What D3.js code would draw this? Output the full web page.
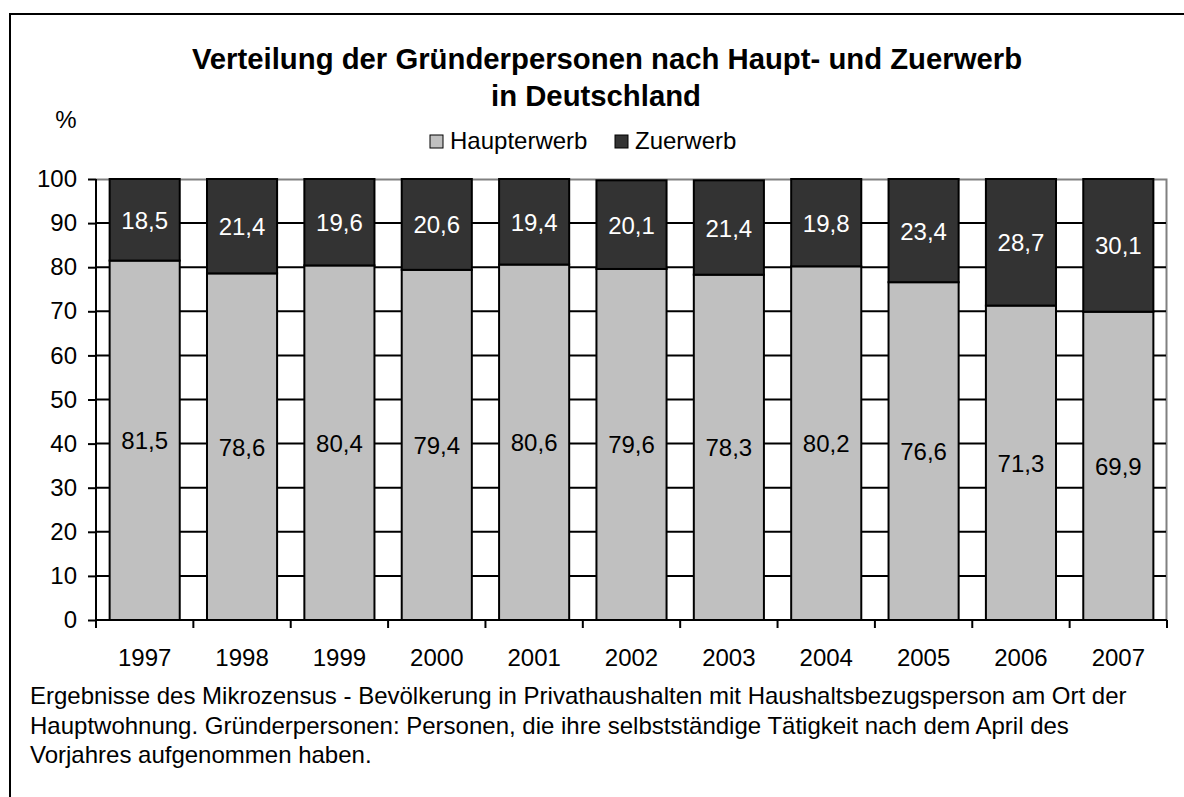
<!DOCTYPE html>
<html lang="de">
<head>
<meta charset="utf-8">
<title>Gründerpersonen</title>
<script src="https://cdn.jsdelivr.net/npm/d3@7"></script>
<style>
  body { margin: 0; background: #fff; }
  text { font-family: "Liberation Sans", Arial, sans-serif; }
</style>
</head>
<body>
<script>
  var years = ["1997", "1998", "1999", "2000", "2001", "2002", "2003", "2004", "2005", "2006", "2007"];
  var haupterwerb = [81.5, 78.6, 80.4, 79.4, 80.6, 79.6, 78.3, 80.2, 76.6, 71.3, 69.9];
  var zuerwerb = [18.5, 21.4, 19.6, 20.6, 19.4, 20.1, 21.4, 19.8, 23.4, 28.7, 30.1];
  var seriesNames = ["Haupterwerb", "Zuerwerb"];
  var yTicks = [0, 10, 20, 30, 40, 50, 60, 70, 80, 90, 100];
  var footer = [
    "Ergebnisse des Mikrozensus - Bevölkerung in Privathaushalten mit Haushaltsbezugsperson am Ort der",
    "Hauptwohnung. Gründerpersonen: Personen, die ihre selbstständige Tätigkeit nach dem April des",
    "Vorjahres aufgenommen haben."
  ];

  var w = 1184, h = 797;
  var margin = { top: 179, left: 96, right: 17, bottom: 177 };
  var width = w - margin.left - margin.right;
  var height = h - margin.top - margin.bottom;
  var colors = ["#c0c0c0", "#333333"];
  var fs = 24;
  var fmt = function(v) { return String(v).replace(".", ","); };

  var svg = d3.select("body").append("svg")
              .attr("width", w)
              .attr("height", h);

  // outer frame (cut off at right and bottom)
  svg.append("rect")
     .attr("x", 10).attr("y", 14)
     .attr("width", 1300).attr("height", 900)
     .attr("fill", "none").attr("stroke", "#000").attr("stroke-width", 2);

  svg.append("text")
     .attr("x", 607).attr("y", 69)
     .attr("text-anchor", "middle")
     .attr("font-size", 29.3).attr("font-weight", "bold")
     .text("Verteilung der Gründerpersonen nach Haupt- und Zuerwerb");
  svg.append("text")
     .attr("x", 596).attr("y", 106)
     .attr("text-anchor", "middle")
     .attr("font-size", 29.3).attr("font-weight", "bold")
     .text("in Deutschland");
  svg.append("text")
     .attr("x", 66).attr("y", 128)
     .attr("text-anchor", "middle")
     .attr("font-size", fs)
     .text("%");

  // legend
  var legendX = [430, 615];
  var legend = svg.selectAll(".legend")
                  .data(seriesNames)
                  .enter().append("g")
                  .attr("class", "legend")
                  .attr("transform", function(d, i) { return "translate(" + legendX[i] + ",135)"; });
  legend.append("rect")
        .attr("width", 13).attr("height", 13)
        .attr("fill", function(d, i) { return colors[i]; })
        .attr("stroke", "#000").attr("stroke-width", 1);
  legend.append("text")
        .attr("x", 20).attr("y", 14)
        .attr("font-size", fs)
        .text(function(d) { return d; });

  var chart = svg.append("g")
                 .attr("transform", "translate(" + margin.left + "," + margin.top + ")");

  var x = d3.scaleBand()
            .domain(years)
            .range([0, width])
            .paddingInner(0.28)
            .paddingOuter(0.14);
  var y = d3.scaleLinear()
            .domain([0, 100])
            .range([height, 0]);

  // plot border top/right
  chart.append("path")
       .attr("d", "M0,0.5H" + (width - 0.5) + "V" + height)
       .attr("fill", "none").attr("stroke", "#808080").attr("stroke-width", 2);

  // gridlines
  chart.selectAll(".grid")
       .data(yTicks.filter(function(t) { return t > 0 && t < 100; }))
       .enter().append("line")
       .attr("x1", 0).attr("x2", width - 1)
       .attr("y1", function(d) { return y(d); })
       .attr("y2", function(d) { return y(d); })
       .attr("stroke", "#000").attr("stroke-width", 2);

  var rows = years.map(function(yr, i) {
    return { year: yr, Haupterwerb: haupterwerb[i], Zuerwerb: zuerwerb[i] };
  });
  var stack = d3.stack().keys(seriesNames)(rows);

  var layers = chart.selectAll(".layer")
                    .data(stack)
                    .enter().append("g")
                    .attr("class", "layer")
                    .attr("fill", function(d, i) { return colors[i]; });
  layers.selectAll("rect")
        .data(function(d) { return d; })
        .enter().append("rect")
        .attr("x", function(d) { return x(d.data.year); })
        .attr("width", x.bandwidth())
        .attr("y", function(d) { return y(d[1]); })
        .attr("height", function(d) { return y(d[0]) - y(d[1]); })
        .attr("stroke", "#000").attr("stroke-width", 2);

  layers.selectAll("text")
        .data(function(d) { return d; })
        .enter().append("text")
        .attr("x", function(d) { return x(d.data.year) + x.bandwidth() / 2; })
        .attr("y", function(d) { return y((d[0] + d[1]) / 2) + 9; })
        .attr("text-anchor", "middle")
        .attr("font-size", fs)
        .attr("fill", function(d) { return d[0] === 0 ? "#000" : "#fff"; })
        .text(function(d) { return fmt(+(d[1] - d[0]).toFixed(1)); });

  // axes
  var yAxis = d3.axisLeft(y).tickValues(yTicks).tickSize(8).tickPadding(11);
  var yG = chart.append("g").call(yAxis);
  yG.select(".domain").attr("stroke-width", 2).attr("d", "M0," + height + "V0");
  yG.selectAll(".tick line").attr("stroke-width", 2);
  yG.selectAll("text").attr("font-size", fs).attr("font-family", "Liberation Sans, Arial, sans-serif").attr("fill", "#000");

  var xAxis = d3.axisBottom(x).tickSize(0).tickPadding(29);
  var xG = chart.append("g").attr("transform", "translate(0," + height + ")").call(xAxis);
  xG.select(".domain").attr("stroke-width", 2).attr("d", "M0,0H" + width);
  xG.selectAll("text").attr("font-size", fs).attr("font-family", "Liberation Sans, Arial, sans-serif").attr("fill", "#000");
  // category separators
  xG.selectAll(".sep")
    .data(d3.range(years.length + 1))
    .enter().append("line")
    .attr("x1", function(i) { return i * x.step(); })
    .attr("x2", function(i) { return i * x.step(); })
    .attr("y1", 0).attr("y2", 8)
    .attr("stroke", "#000").attr("stroke-width", 2);

  svg.selectAll(".foot")
     .data(footer)
     .enter().append("text")
     .attr("x", 30)
     .attr("y", function(d, i) { return 704 + i * 29.5; })
     .attr("font-size", fs)
     .text(function(d) { return d; });
</script>
</body>
</html>
